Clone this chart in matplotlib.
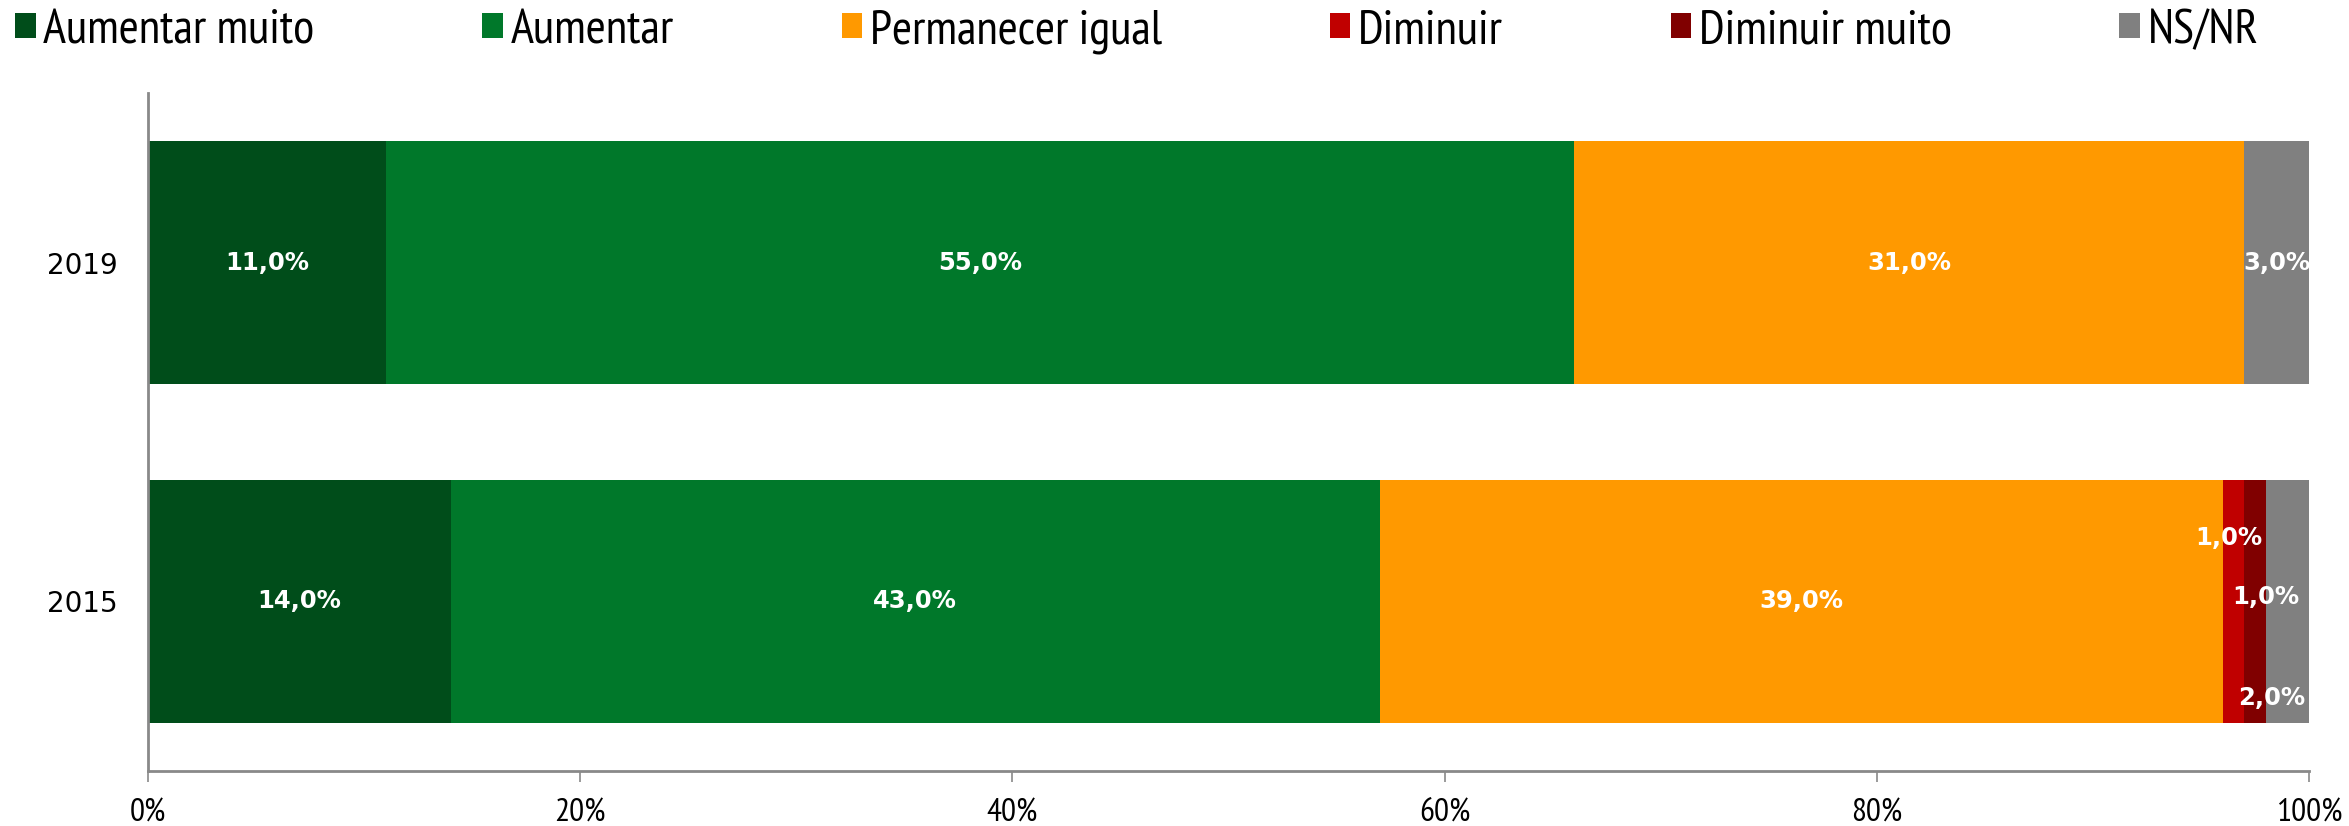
import matplotlib.pyplot as plt
from matplotlib.ticker import FuncFormatter

years = ["2015", "2019"]
categories = ["Aumentar muito", "Aumentar", "Permanecer igual",
              "Diminuir", "Diminuir muito", "NS/NR"]
values_2015 = [14.0, 43.0, 39.0, 1.0, 1.0, 2.0]
values_2019 = [11.0, 55.0, 31.0, 0.0, 0.0, 3.0]
colors = ["#004D1A", "#00782A", "#FF9900", "#C00000", "#800000", "#808080"]

# label nudges (pixels) for the thin segments of 2015
label_offsets_2015 = {3: (-5, 63), 4: (11, 4), 5: (-16, -97)}

narrow = ["PT Sans Narrow", "DejaVu Sans"]

fig = plt.figure(figsize=(23.49, 8.26), dpi=100)
ax = fig.add_axes([0.063, 0.0666, 0.92, 0.8208])

series = [values_2015, values_2019]
left = [0.0, 0.0]
for i, cat in enumerate(categories):
    widths = [s[i] for s in series]
    ax.barh(years, widths, left=left, height=0.715, color=colors[i], label=cat)
    for j, w in enumerate(widths):
        if w <= 0:
            continue
        dx, dy = (0, 0)
        if j == 0 and i in label_offsets_2015:
            dx, dy = label_offsets_2015[i]
        ax.annotate(f"{w:.1f}%".replace(".", ","), (left[j] + w / 2, j),
                    xytext=(dx, dy), textcoords="offset pixels",
                    ha="center", va="center", color="white",
                    fontsize=17.5, fontweight="bold", family="DejaVu Sans")
    left = [l + w for l, w in zip(left, widths)]

ax.set_xlim(0, 100)
ax.set_ylim(-0.5, 1.5)
ax.set_xticks([0, 20, 40, 60, 80, 100])
ax.xaxis.set_major_formatter(FuncFormatter(lambda v, p: f"{v:.0f}%"))

for s in ["top", "right"]:
    ax.spines[s].set_visible(False)
for s in ["left", "bottom"]:
    ax.spines[s].set_color("#898989")
    ax.spines[s].set_linewidth(2)

ax.tick_params(axis="x", length=8, width=1.2, color="#898989", pad=12,
               labelsize=24, labelfontfamily=narrow)
ax.tick_params(axis="y", length=0, pad=22, labelsize=20,
               labelfontfamily="DejaVu Sans")

handles, labels = ax.get_legend_handles_labels()
fig.legend(handles, labels, loc="center left", bbox_to_anchor=(0.0065, 0.962),
           ncol=6, frameon=False, borderpad=0, borderaxespad=0,
           prop={"family": narrow, "size": 35},
           handlelength=0.42, handleheight=0.42, handletextpad=0.16,
           columnspacing=3.45)

fig.savefig("out.png", dpi=100)
